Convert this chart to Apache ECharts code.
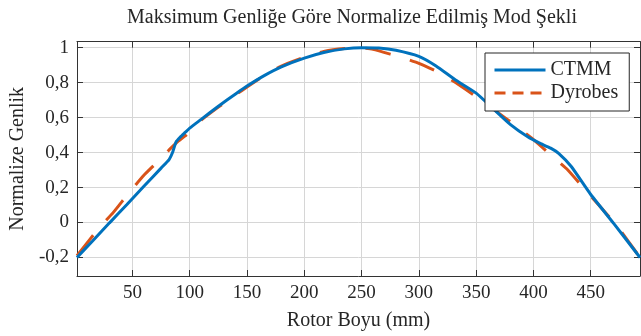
<!DOCTYPE html>
<html>
<head>
<meta charset="utf-8">
<script src="https://cdn.jsdelivr.net/npm/echarts@6/dist/echarts.min.js"></script>
<style>
  html, body { margin: 0; padding: 0; background: #fff; }
  #mode_chart { width: 641px; height: 336px; }
</style>
</head>
<body>
<div id="mode_chart"></div>
<script>
// CTMM egrisi (okunan degerler)
var ctmmX = [1.6, 15, 30, 45, 60, 75, 82, 85, 88, 92, 96, 100, 110, 125, 140, 150, 165, 180, 200, 217,
  235, 250, 265, 280, 300, 315, 332, 350, 365, 380, 395, 405, 415, 422, 433, 450, 470, 493];
var ctmmY = [-0.2, -0.107, -0.002, 0.102, 0.207, 0.311, 0.36, 0.40, 0.46, 0.49, 0.515, 0.54, 0.59, 0.665, 0.735, 0.78, 0.84, 0.89, 0.94, 0.972,
  0.993, 1.0, 0.998, 0.985, 0.95, 0.895, 0.815, 0.74, 0.65, 0.56, 0.49, 0.455, 0.425, 0.395, 0.32, 0.16, -0.005, -0.2];

// Dyrobes egrisi
var dyrX = [1.6, 21, 33, 47, 60, 70, 82, 90, 96, 100, 110, 125, 140, 150, 165, 180, 200, 217, 235, 250,
  260, 275, 289, 300, 320, 332, 350, 375, 398, 417, 430, 446, 457, 473, 493];
var dyrY = [-0.19, -0.03, 0.055, 0.17, 0.27, 0.335, 0.415, 0.465, 0.495, 0.52, 0.585, 0.66, 0.73, 0.775, 0.84, 0.895, 0.945, 0.978, 0.995, 0.998,
  0.99, 0.963, 0.935, 0.91, 0.85, 0.8, 0.72, 0.6, 0.485, 0.375, 0.3, 0.18, 0.1, -0.02, -0.2];

var xTicks = [50, 100, 150, 200, 250, 300, 350, 400, 450];
var yTicks = [-0.2, 0, 0.2, 0.4, 0.6, 0.8, 1];

function pairs(xs, ys) {
  return xs.map(function (x, i) { return [x, ys[i]]; });
}

var fontName = 'Liberation Serif';
var txtColor = '#262626';

var chartDom = document.getElementById('mode_chart');
var myChart = echarts.init(chartDom);

var xMin = 1.6, xMax = 493, yMin = -0.306, yMax = 1.034;

var baseX = {
  type: 'value',
  min: xMin,
  max: xMax,
  splitNumber: 10,
  axisLine: { show: true, onZero: false, lineStyle: { color: '#333', width: 1 } },
  axisTick: { show: true, inside: true, length: 6, lineStyle: { color: '#333' } }
};
var baseY = {
  type: 'value',
  min: yMin,
  max: yMax,
  splitNumber: 7,
  axisLine: { show: true, onZero: false, lineStyle: { color: '#333', width: 1 } },
  axisTick: { show: true, inside: true, length: 6, lineStyle: { color: '#333' } }
};

var option = {
  animation: false,
  title: {
    text: 'Maksimum Genliğe Göre Normalize Edilmiş Mod Şekli',
    left: 127,
    top: 8,
    padding: 0,
    textStyle: {
      color: txtColor,
      fontFamily: fontName,
      fontWeight: 'normal',
      fontSize: 20
    }
  },
  legend: {
    orient: 'vertical',
    left: 485,
    top: 53,
    padding: [7, 11, 8, 8],
    itemGap: 3,
    itemWidth: 51,
    itemHeight: 20,
    backgroundColor: '#fff',
    borderColor: '#262626',
    borderWidth: 1,
    itemStyle: { opacity: 0 },
    lineStyle: { width: 3 },
    textStyle: {
      color: txtColor,
      fontFamily: fontName,
      fontSize: 20
    },
    data: [
      { name: 'CTMM', lineStyle: { width: 3, type: 'solid' } },
      { name: 'Dyrobes', lineStyle: { width: 3, type: [11, 7] } }
    ]
  },
  grid: {
    left: 70.7,
    right: 1,
    top: 41.7,
    bottom: 59.3,
    containLabel: false
  },
  xAxis: [
    Object.assign({}, baseX, {
      position: 'bottom',
      name: 'Rotor Boyu (mm)',
      nameLocation: 'middle',
      nameGap: 35,
      nameTextStyle: { color: txtColor, fontFamily: fontName, fontSize: 20 },
      axisLabel: {
        color: txtColor,
        fontFamily: fontName,
        fontSize: 19,
        margin: 8,
        showMinLabel: false,
        showMaxLabel: false,
        formatter: function (v) {
          return xTicks.indexOf(Math.round(v)) >= 0 ? String(Math.round(v)) : '';
        }
      },
      splitLine: { show: true, lineStyle: { color: '#d6d6d6', width: 1 } }
    }),
    Object.assign({}, baseX, {
      position: 'top',
      axisLabel: { show: false },
      splitLine: { show: false }
    })
  ],
  yAxis: [
    Object.assign({}, baseY, {
      position: 'left',
      name: 'Normalize Genlik',
      nameLocation: 'middle',
      nameGap: 47,
      nameTextStyle: { color: txtColor, fontFamily: fontName, fontSize: 20 },
      axisLabel: {
        color: txtColor,
        fontFamily: fontName,
        fontSize: 19,
        margin: 8,
        showMinLabel: false,
        showMaxLabel: false,
        formatter: function (v) {
          var r = Math.round(v * 10) / 10;
          var ok = yTicks.some(function (t) { return Math.abs(t - r) < 1e-9; });
          return ok ? String(r).replace('.', ',') : '';
        }
      },
      splitLine: { show: true, lineStyle: { color: '#d6d6d6', width: 1 } }
    }),
    Object.assign({}, baseY, {
      position: 'right',
      axisLabel: { show: false },
      splitLine: { show: false }
    })
  ],
  series: [
    {
      name: 'Dyrobes',
      type: 'line',
      xAxisIndex: 0,
      yAxisIndex: 0,
      data: pairs(dyrX, dyrY),
      symbol: 'none',
      smooth: 0.15,
      z: 2,
      itemStyle: { color: '#D95319' },
      lineStyle: { color: '#D95319', width: 3, type: [26, 20] }
    },
    {
      name: 'CTMM',
      type: 'line',
      xAxisIndex: 0,
      yAxisIndex: 0,
      data: pairs(ctmmX, ctmmY),
      symbol: 'none',
      smooth: 0.15,
      z: 3,
      itemStyle: { color: '#0072BD' },
      lineStyle: { color: '#0072BD', width: 3 }
    }
  ]
};

option && myChart.setOption(option);
new ResizeObserver(() => myChart.resize()).observe(chartDom);
</script>
</body>
</html>
